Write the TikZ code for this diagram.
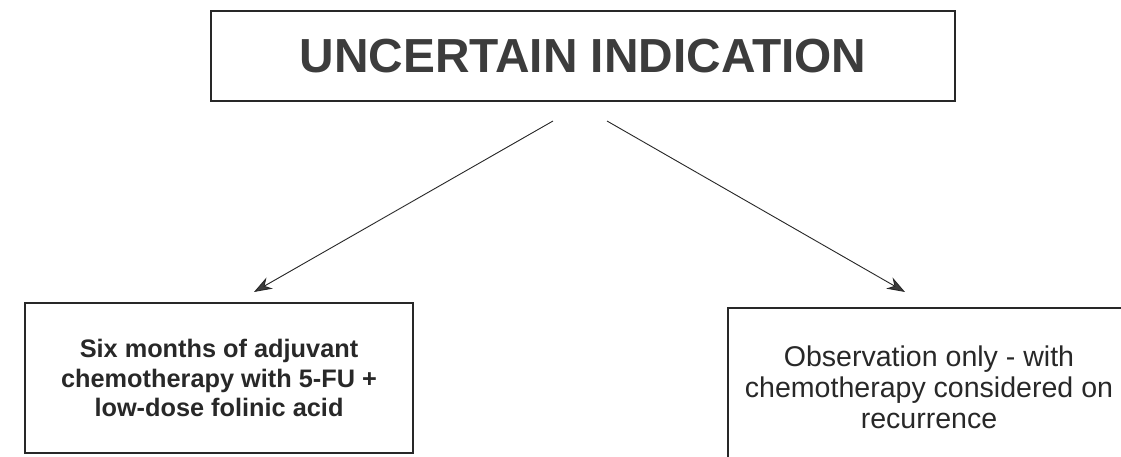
\documentclass[tikz,border=0pt]{standalone}
\usepackage{fontspec}
\setmainfont{Liberation Sans}
\usetikzlibrary{arrows.meta,positioning}
\definecolor{ink}{RGB}{40,40,40}
\definecolor{head}{RGB}{60,60,60}
\tikzset{
  titlebox/.style={draw=ink,line width=0.9pt,minimum width=18.6cm,minimum height=2.25cm,
    font=\fontsize{34}{40}\selectfont\bfseries,text=head},
  leftbox/.style={draw=ink,line width=0.9pt,minimum width=9.7cm,minimum height=3.75cm,
    align=center,font=\fontsize{18}{21.3}\selectfont\bfseries,text=ink},
  rightbox/.style={draw=ink,line width=0.9pt,minimum width=10.05cm,minimum height=3.95cm,
    align=center,font=\fontsize{20.3}{22}\selectfont,text=ink},
  arr/.style={-{Stealth[length=4.5mm,width=3.2mm,fill=head]},draw=ink,line width=0.65pt},
}
\begin{document}
\begin{tikzpicture}[x=0.025cm,y=-0.025cm]
  \useasboundingbox (0,0) rectangle (1121,457);
  % top question
  \node[titlebox] (uncertain) at (583,56) {UNCERTAIN INDICATION};
  % the two options
  \node[leftbox] (adjuvant) at (219,378)
    {Six months of adjuvant\\chemotherapy with 5-FU +\\low-dose folinic acid};
  \node[rightbox] (observe) at (929,387)
    {Observation only - with\\chemotherapy considered on\\recurrence};
  \coordinate (lstart) at (553,121);
  \coordinate (rstart) at (607,121);
  \coordinate (ltip) at (254,292);
  \coordinate (rtip) at (905,292);
  \draw[arr] (lstart) -- (ltip);
  \draw[arr] (rstart) -- (rtip);
\end{tikzpicture}
\end{document}
